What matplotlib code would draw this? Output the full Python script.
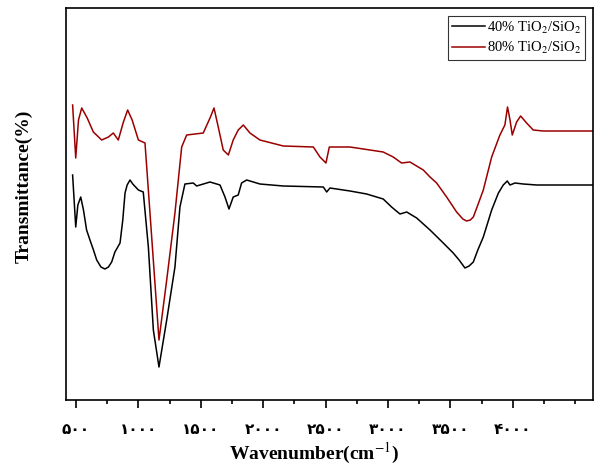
import numpy as np
import matplotlib
matplotlib.use('Agg')
import matplotlib.pyplot as plt
from matplotlib.ticker import MultipleLocator, FixedLocator

plt.rcParams['font.family'] = ['Liberation Serif', 'DejaVu Serif']
plt.rcParams['mathtext.fontset'] = 'stix'

# 40% TiO2/SiO2 (black) - wavenumber, transmittance (arbitrary units)
wn_40 = [473, 498, 515, 538, 560, 585, 612, 640, 666, 700, 732, 760, 786, 812, 853, 875,
         893, 910, 933, 955, 1000, 1039, 1080, 1120, 1165, 1227, 1293, 1333, 1373, 1440,
         1467, 1574, 1654, 1694, 1726, 1760, 1800, 1827, 1868, 1974, 2161, 2482, 2509,
         2535, 2696, 2829, 2962, 3029, 3096, 3150, 3230, 3337, 3443, 3523, 3570, 3617,
         3650, 3684, 3720, 3764, 3831, 3885, 3924, 3956, 3978, 4018, 4084, 4192, 4643]
tr_40 = [225, 173, 195, 203, 190, 170, 160, 150, 140, 133, 131, 133, 138, 148, 157, 180,
         207, 215, 220, 216, 210, 208, 153, 70, 33, 80, 133, 193, 216, 217,
         214, 218, 215, 203, 191, 203, 205, 217, 220, 216, 214, 213, 208,
         212, 209, 206, 201, 193, 186, 188, 182, 170, 157, 147, 140, 132,
         134, 138, 150, 163, 190, 207, 215, 219, 215, 217, 216, 215, 215]

# 80% TiO2/SiO2 (red)
wn_80 = [473, 498, 520, 546, 590, 639, 706, 760, 799, 839, 880, 914, 950, 1000, 1053,
         1093, 1165, 1227, 1293, 1347, 1387, 1520, 1574, 1606, 1640, 1680, 1721, 1760,
         1800, 1841, 1894, 1974, 2161, 2402, 2455, 2503, 2530, 2696, 2962, 3042, 3109,
         3176, 3283, 3337, 3390, 3470, 3550, 3600, 3630, 3660, 3684, 3720, 3764, 3831,
         3897, 3937, 3958, 3978, 3996, 4031, 4063, 4111, 4164, 4244, 4643]
tr_80 = [295, 242, 280, 292, 282, 268, 260, 263, 267, 260, 278, 290, 280, 260, 257,
         187, 60, 120, 187, 253, 265, 267, 282, 292, 273, 250, 245, 260,
         270, 275, 267, 260, 254, 253, 243, 237, 253, 253, 248, 243, 237,
         238, 230, 223, 217, 203, 188, 181, 179, 180, 183, 195, 210, 243,
         265, 275, 293, 280, 265, 278, 284, 277, 270, 269, 269]

tick_vals = [500, 1000, 1500, 2000, 2500, 3000, 3500, 4000]
tick_labels = ['۵۰۰', '۱۰۰۰', '۱۵۰۰', '۲۰۰۰', '۲۵۰۰', '۳۰۰۰', '۳۵۰۰', '۴۰۰۰']

fig = plt.figure(figsize=(5.94, 4.66), dpi=100)
ax = fig.add_axes([66 / 594, 66 / 466, 527 / 594, 392 / 466])

ax.plot(wn_40, tr_40, color='black', lw=1.1, label='40% TiO$_2$/SiO$_2$')
ax.plot(wn_80, tr_80, color='#9B0000', lw=1.1, label='80% TiO$_2$/SiO$_2$')

ax.set_xlim(420, 4643)
ax.set_ylim(0, 392)
ax.set_yticks([])

ax.xaxis.set_major_locator(FixedLocator(tick_vals))
ax.xaxis.set_minor_locator(MultipleLocator(250))
ax.set_xticklabels(tick_labels, family=['DejaVu Sans'], fontsize=11, fontweight='bold')
ax.tick_params(axis='x', which='major', length=6, width=1.2, direction='out', pad=10)
ax.tick_params(axis='x', which='minor', length=3, width=1.2, direction='out')
for s in ax.spines.values():
    s.set_linewidth(1.2)

ax.set_xlabel('Wavenumber(cm$^{-1}$)', fontsize=14, fontweight='bold', labelpad=2)
ax.set_ylabel('Transmittance(%)', fontsize=14, fontweight='bold')
ax.xaxis.set_label_coords(0.47, -0.105)
ax.yaxis.set_label_coords(-0.063, 0.545)

leg = ax.legend(loc='upper right', fontsize=10.5, frameon=True, fancybox=False,
                handlelength=2.3, handletextpad=0.15, borderpad=0.25, labelspacing=0.3,
                borderaxespad=0.0, bbox_to_anchor=(0.985, 0.98))
leg.get_frame().set_edgecolor('black')
leg.get_frame().set_linewidth(0.8)

fig.savefig('out.png', dpi=100)
